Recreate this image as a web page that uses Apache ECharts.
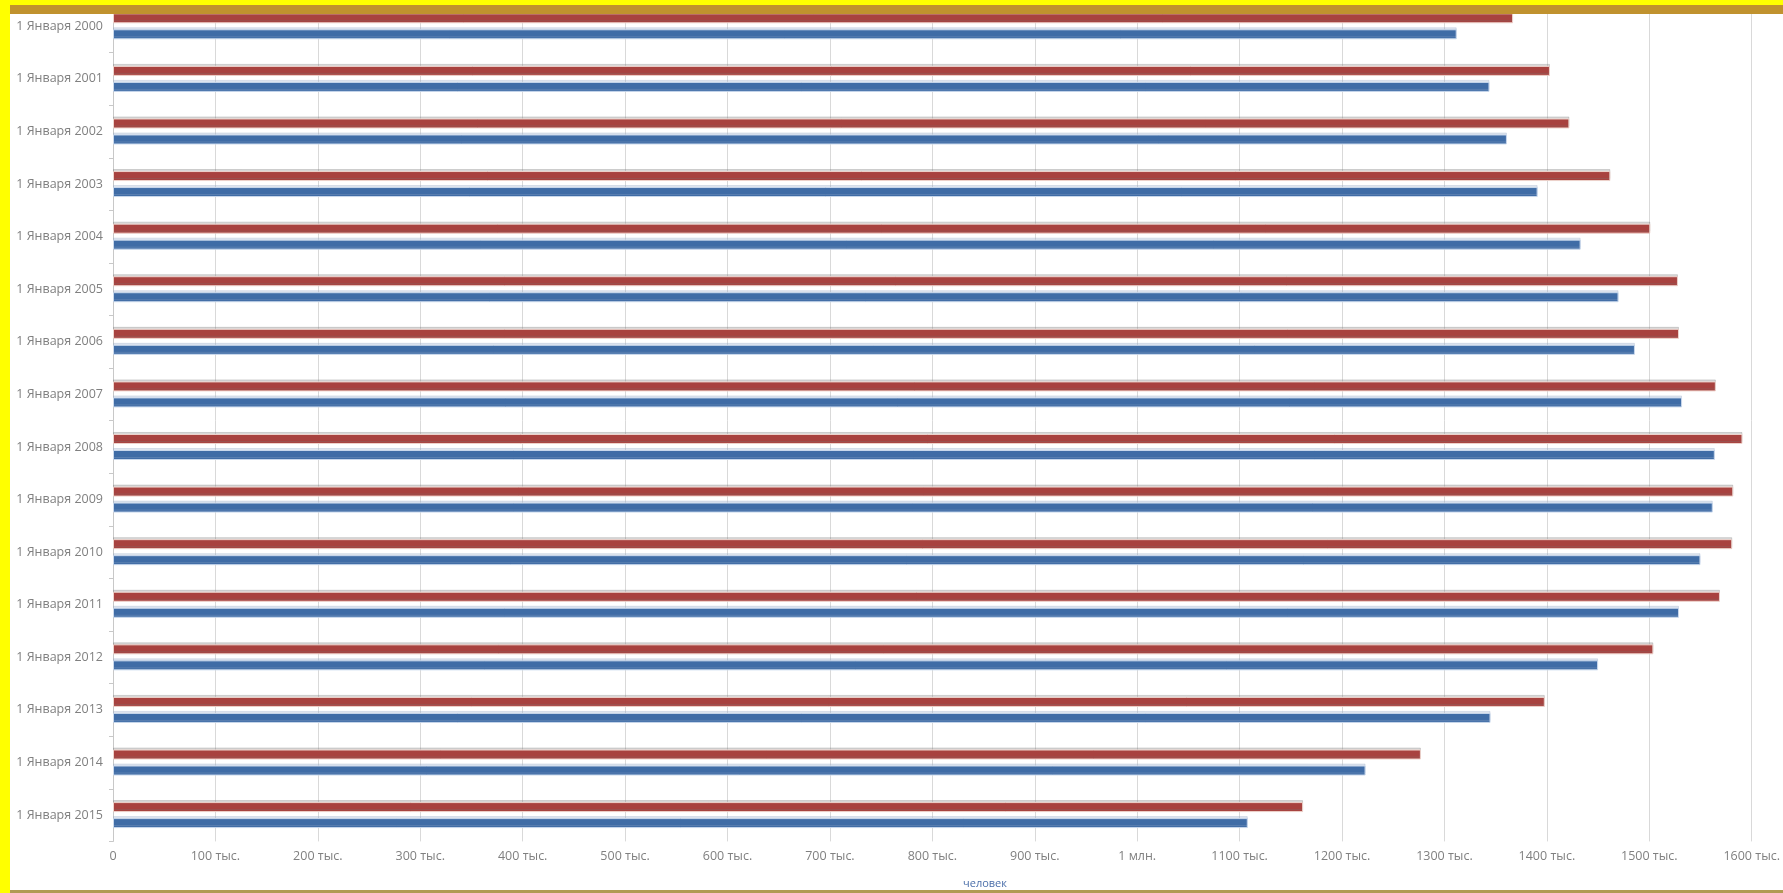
<!DOCTYPE html>
<html>
<head>
<meta charset="utf-8">
<script src="https://cdn.jsdelivr.net/npm/echarts/dist/echarts.min.js"></script>
<style>
html,body{margin:0;padding:0;background:#ffffff;overflow:hidden}
#c{width:1783px;height:893px}
</style>
</head>
<body>
<div id="c"></div>
<script>
// ---- data ----
const categories = [
  '1 Января 2000','1 Января 2001','1 Января 2002','1 Января 2003',
  '1 Января 2004','1 Января 2005','1 Января 2006','1 Января 2007',
  '1 Января 2008','1 Января 2009','1 Января 2010','1 Января 2011',
  '1 Января 2012','1 Января 2013','1 Января 2014','1 Января 2015'
];
// values in thousands of people
const redValues  = [1367,1403,1422,1462,1501,1528,1529,1565,1591,1582,1581,1569,1504,1398,1277,1162];
const blueValues = [1312,1344,1361,1391,1433,1470,1486,1532,1564,1562,1550,1529,1450,1345,1223,1108];
const axisMin = 0;
const axisMax = 1600;
const axisStep = 100;
const axisTitle = 'человек';

function tickLabel(v) {
  if (v === 0) return '0';
  if (v === 1000) return '1 млн.';
  return v + ' тыс.';
}

// ---- chart ----
const chart = echarts.init(document.getElementById('c'), null, {renderer: 'canvas'});
const labelFont = '"Open Sans", "Noto Sans", sans-serif';

const option = {
  backgroundColor: '#ffffff',
  animation: false,
  grid: { left: 113, right: 28, top: -2.6, bottom: 51.6, containLabel: false },
  xAxis: {
    type: 'value',
    min: axisMin, max: axisMax, interval: axisStep,
    axisLine: { show: false },
    axisTick: { show: false },
    splitLine: { show: true, lineStyle: { color: '#d9d9d9', width: 1 } },
    axisLabel: {
      formatter: tickLabel,
      color: '#808080',
      fontFamily: labelFont,
      fontSize: 12.5,
      margin: 9
    }
  },
  yAxis: {
    type: 'category',
    data: categories,
    inverse: true,
    axisLine: { show: true, lineStyle: { color: '#c8c8c8', width: 1 } },
    axisTick: { show: true, length: 4, lineStyle: { color: '#c8c8c8' } },
    splitLine: { show: false },
    axisLabel: {
      color: '#808080',
      fontFamily: labelFont,
      fontSize: 12.5,
      margin: 10
    }
  },
  series: [
    {
      name: 'Ряд 2',
      type: 'bar',
      data: redValues,
      barWidth: 10,
      barGap: '60%',
      itemStyle: {
        color: '#a8423f',
        borderColor: '#eed3cc',
        borderWidth: 1,
        shadowColor: 'rgba(120,120,120,0.28)',
        shadowOffsetY: -2,
        shadowBlur: 0
      }
    },
    {
      name: 'Ряд 1',
      type: 'bar',
      data: blueValues,
      barWidth: 10,
      itemStyle: {
        color: '#3f6ca6',
        borderColor: '#c9d8ec',
        borderWidth: 1,
        shadowColor: 'rgba(150,170,200,0.3)',
        shadowOffsetY: -2,
        shadowBlur: 0
      }
    }
  ],
  graphic: [
    { type: 'text', z: 50, x: 985, y: 884,
      style: { text: axisTitle, fill: '#4a6ea9', font: '11px "Open Sans", sans-serif', textAlign: 'center', textVerticalAlign: 'middle' } },
    { type: 'rect', z: 100, shape: { x: 0, y: 0, width: 10, height: 893 }, style: { fill: '#ffff00' } },
    { type: 'rect', z: 100, shape: { x: 0, y: 0, width: 1783, height: 5 }, style: { fill: '#ffff00' } },
    { type: 'rect', z: 100, shape: { x: 10, y: 5, width: 1773, height: 9 }, style: { fill: '#c0922e' } },
    { type: 'rect', z: 100, shape: { x: 10, y: 890, width: 1773, height: 3 }, style: { fill: '#b09a52' } }
  ]
};
chart.setOption(option);
</script>
</body>
</html>
